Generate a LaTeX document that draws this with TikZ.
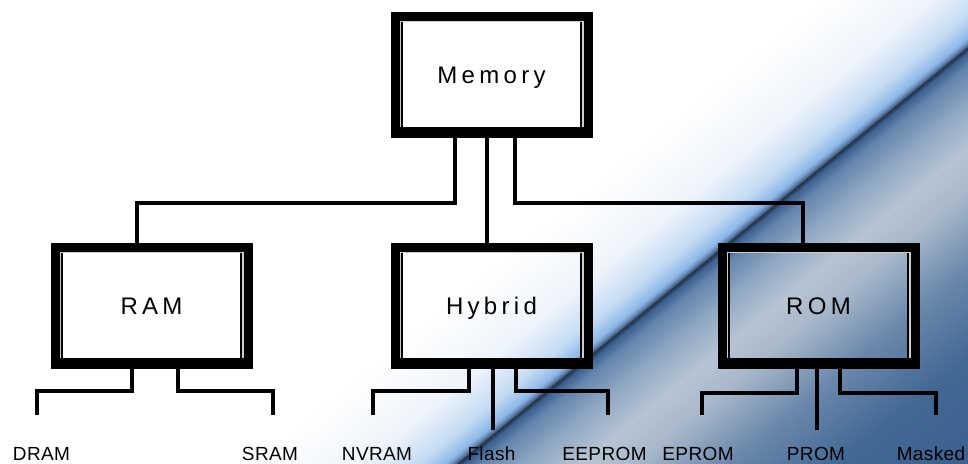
\documentclass[tikz,border=0pt]{standalone}
\usepackage{fontspec}
\setmainfont{Liberation Sans}
\newfontfamily\boxfont[LetterSpace=18]{Liberation Sans}
\newfontfamily\leaffont[LetterSpace=2]{Liberation Sans}
\usetikzlibrary{positioning}

\definecolor{bgA}{HTML}{EEF4FB}
\definecolor{bgB}{HTML}{C4DBF3}
\definecolor{bgC}{HTML}{8CB8E8}
\definecolor{bgD}{HTML}{5A7DA6}
\definecolor{bgE}{HTML}{26354A}
\definecolor{bgF}{HTML}{3C6090}
\definecolor{bgG}{HTML}{6284AC}
\definecolor{bgH}{HTML}{8FA7C3}
\definecolor{bgI}{HTML}{B7C4D3}
\definecolor{bgJ}{HTML}{A8B8CA}
\definecolor{bgK}{HTML}{6B88AC}
\definecolor{bgL}{HTML}{426894}
\definecolor{bgM}{HTML}{38598A}

\begin{document}
\begin{tikzpicture}[x=1pt,y=-1pt,
    membox/.style={draw,line width=9pt,minimum width=193pt,minimum height=117pt,
      inner sep=0pt,text height=17.2pt,text depth=0pt,
      font=\boxfont\fontsize{24}{28}\selectfont,
      path picture={
        \fill ([yshift=-1pt]path picture bounding box.south west) rectangle
              ([yshift=6.5pt]path picture bounding box.south east);
        \draw[gray!40,line width=1.2pt]
          ([xshift=5.1pt,yshift=6.5pt]path picture bounding box.south west) |-
          ([xshift=-5.1pt,yshift=-5.1pt]path picture bounding box.north east) --
          ([xshift=-5.1pt,yshift=6.5pt]path picture bounding box.south east);
        \draw[line width=2pt]
          ([xshift=6.7pt,yshift=-5.7pt]path picture bounding box.north west) --
          ([xshift=6.7pt]path picture bounding box.south west);
        \draw[line width=2pt]
          ([xshift=-6.7pt,yshift=-5.7pt]path picture bounding box.north east) --
          ([xshift=-6.7pt]path picture bounding box.south east);
      }},
    leaf/.style={anchor=base,inner sep=0pt,font=\leaffont\fontsize{19}{22}\selectfont},
    link/.style={line width=4.5pt}]

  \useasboundingbox (0,0) rectangle (968,463);

  \begin{scope}
    \clip (0,0) rectangle (968,463);
    \fill[white] (0,0) rectangle (968,463);
    \begin{scope}[transform canvas={shift={(705,262)},rotate=-50.8}]
      \foreach \da/\ca/\db/\cb in {-130/white/-60/bgA,-60/bgA/-25/bgB,-25/bgB/-8/bgC,
          -8/bgC/-3/bgD,-3/bgD/0/bgE,0/bgE/4/bgF,4/bgF/14/bgG,14/bgG/42/bgH,
          42/bgH/78/bgI,78/bgI/112/bgJ,112/bgJ/170/bgK,170/bgK/240/bgL,240/bgL/400/bgM}
        \shade[left color=\ca,right color=\cb] (\da,-800) rectangle (\db+0.6,800);
    \end{scope}
  \end{scope}

  \node[membox] (memory) at (491.5,75) {Memory};
  \node[membox] (hybrid) [below=105pt of memory] {Hybrid};
  \node[membox] (ram) [left=138pt of hybrid] {RAM};
  \node[membox] (rom) [right=125pt of hybrid] {ROM};

  \node[leaf] (dram) at (41.5,460.5) {DRAM};
  \node[leaf] (sram) at (270,460.3) {SRAM};
  \node[leaf] (nvram) at (377,460.5) {NVRAM};
  \node[leaf] (flash) at (491.5,460.5) {Flash};
  \node[leaf] (eeprom) at (604.5,460.5) {EEPROM};
  \node[leaf] (eprom) at (698,460.5) {EPROM};
  \node[leaf] (prom) at (816,460.5) {PROM};
  \node[leaf] (masked) at (931,460.5) {Masked};

  \draw[link] ([xshift=-36.5pt]memory.south) -- ++(0,65) -| ([xshift=-14.5pt]ram.north);
  \draw[link] ([xshift=-4.5pt]memory.south) -- ([xshift=-4.5pt]hybrid.north);
  \draw[link] ([xshift=23.5pt]memory.south) -- ++(0,65) -| ([xshift=-15.5pt]rom.north);

  \draw[link,shorten >=32pt] ([xshift=-19.5pt,yshift=11pt]ram.south) -- ++(0,33) -| ([xshift=-4.5pt]dram.north);
  \draw[link,shorten >=32pt] ([xshift=26.5pt,yshift=11pt]ram.south) -- ++(0,33) -| ([xshift=3pt]sram.north);

  \draw[link,shorten >=32pt] ([xshift=-22.5pt,yshift=11pt]hybrid.south) -- ++(0,33) -| ([xshift=-4pt]nvram.north);
  \draw[link,shorten >=17pt] ([xshift=1.5pt]hybrid.south) -- ([xshift=1.5pt]flash.north);
  \draw[link,shorten >=32pt] ([xshift=24.5pt,yshift=11pt]hybrid.south) -- ++(0,33) -| ([xshift=3.5pt]eeprom.north);

  \draw[link,shorten >=32pt] ([xshift=-21.5pt,yshift=11pt]rom.south) -- ++(0,35) -| ([xshift=4pt]eprom.north);
  \draw[link,shorten >=17pt] ([xshift=-1.5pt]rom.south) -- ([xshift=1pt]prom.north);
  \draw[link,shorten >=32pt] ([xshift=21.5pt,yshift=11pt]rom.south) -- ++(0,35) -| ([xshift=5pt]masked.north);
\end{tikzpicture}
\end{document}
